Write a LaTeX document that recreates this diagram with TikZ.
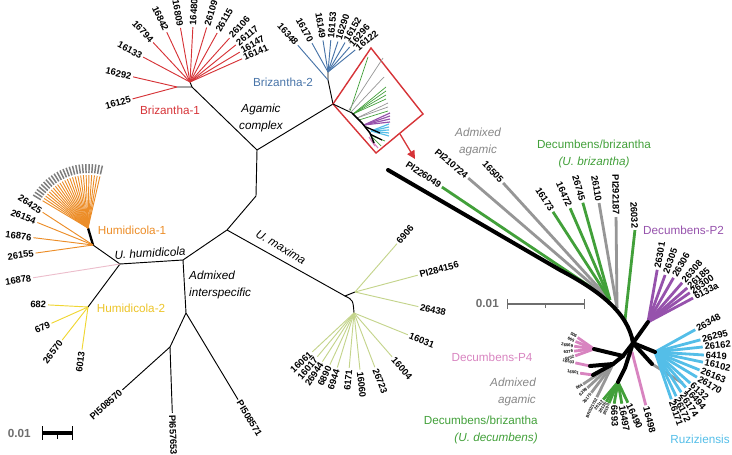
\documentclass[tikz,border=0pt]{standalone}
\usepackage{fontspec}
\setmainfont{Liberation Sans}
\usetikzlibrary{arrows.meta}

\definecolor{brzone}{RGB}{214,52,56}
\definecolor{brztwo}{RGB}{72,116,168}
\definecolor{humone}{RGB}{236,141,40}
\definecolor{humtwo}{RGB}{240,214,50}
\definecolor{humtxt}{RGB}{236,196,40}
\definecolor{humpink}{RGB}{236,190,204}
\definecolor{maxgreen}{RGB}{196,212,140}
\definecolor{decgreen}{RGB}{66,160,58}
\definecolor{admgray}{RGB}{150,150,150}
\definecolor{txtgray}{RGB}{135,135,135}
\definecolor{bargray}{RGB}{110,110,110}
\definecolor{blobgray}{RGB}{125,125,125}
\definecolor{ptwo}{RGB}{150,82,172}
\definecolor{pfour}{RGB}{216,132,192}
\definecolor{ruzcyan}{RGB}{84,190,232}

% tip labels read outwards and never upside down
\tikzset{
  radial/.code={%
    \pgfmathsetmacro\rdang{mod(#1+720,360)}%
    \ifdim\rdang pt>90pt
      \ifdim\rdang pt<270pt
        \pgfmathsetmacro\rdrot{\rdang-180}%
        \pgfkeysalso{rotate=\rdrot,anchor=east}%
      \else
        \pgfkeysalso{rotate=\rdang,anchor=west}%
      \fi
    \else
      \pgfkeysalso{rotate=\rdang,anchor=west}%
    \fi}
}

% fan of leaves: origin, prefix, line style, label style, angle/length/label
\newcommand{\leaffan}[5]{%
  \foreach \ang/\len/\lbl [count=\i] in {#5}{%
    \path (#1) ++(\ang:\len) coordinate (#2-\i);
    \draw[#3] (#1) -- (#2-\i);
    \node[#4, radial=\ang] (#2-l\i) at (#2-\i) {\lbl};
  }%
}

% mixed fan: angle/length/label angle/colour/label
\newcommand{\mixfan}[3]{%
  \foreach \ang/\len/\lang/\col/\lbl [count=\i] in {#3}{%
    \path (#1) ++(\ang:\len) coordinate (#2-\i);
    \draw[thick leaf=\col] (#1) -- (#2-\i);
    \node[tip, radial=\lang] (#2-l\i) at (#2-\i) {\lbl};
  }%
}

\begin{document}
\begin{tikzpicture}[x=0.03cm, y=0.03cm,
    % branch styles
    stem/.style={line width=0.8pt, draw=black},
    spine/.style={line width=3.4pt, draw=black, line cap=round},
    thin leaf/.style={line width=0.8pt, draw=#1},
    thick leaf/.style={line width=2.4pt, draw=#1},
    blob/.style={line width=1.25pt, draw=blobgray},
    % text styles
    tip/.style={font=\fontsize{8}{9}\selectfont\bfseries, inner sep=1.5pt},
    tiny tip/.style={font=\fontsize{3.6}{4}\selectfont\bfseries, inner sep=0.8pt},
    clade/.style={font=\fontsize{10}{12}\selectfont, text=#1, align=center, inner sep=0pt},
    clade/.default=black,
    scale label/.style={font=\fontsize{10}{12}\selectfont\bfseries, text=bargray, inner sep=0pt}
  ]
  \useasboundingbox (0,0) rectangle (732,-455);

  % --- Main tree: inner nodes ---
  \coordinate (ag)   at (257,-150);
  \coordinate (kink) at (256,-196);
  \coordinate (jn)   at (227,-230);
  \coordinate (hu)   at (183,-260);
  \coordinate (hh)   at (120,-264);
  \coordinate (ai)   at (186,-313);
  \coordinate (ai2)  at (170,-347);
  \coordinate (mx)   at (345,-296);
  \coordinate (mx1)  at (355,-292);
  \coordinate (mx2)  at (354,-313);
  \coordinate (b1)   at (192,-87);
  \coordinate (b1a)  at (177,-87);
  \coordinate (b1f)  at (190,-82);
  \coordinate (b2)   at (333,-104);
  \coordinate (b2a)  at (328,-80);
  \coordinate (b2f)  at (328,-72);
  \coordinate (h1)   at (93,-245);
  \coordinate (h1f)  at (88,-228);
  \coordinate (h2)   at (88,-307);

  % --- Main tree: backbone ---
  \draw[stem] (b1a) -- (b1) -- (ag) -- (b2) -- (b2a) -- (b2f);
  \draw[stem] (b1f) -- (b1);
  \draw[stem] (ag) -- (kink) -- (jn) -- (hu) -- (hh) -- (h1);
  \draw[stem] (jn) -- (mx) -- (mx1);
  \draw[stem] (mx) .. controls (353,-300) .. (mx2);
  \draw[stem] (hu) -- (ai) -- (ai2);
  \draw[stem] (hh) -- (h2);
  \draw[line width=2pt] (h1) -- (h1f);

  % --- Brizantha-1 ---
  \leaffan{b1a}{bo}{thin leaf=brzone}{tip}{195/46/16125, 167/45/16292}
  \leaffan{b1f}{bf}{thin leaf=brzone}{tip}{152/53/16133, 133/54/16794, 115/55/16842,
    100/55/16809, 87/55/16480, 73/57/26109, 61/56/26115, 48/59/26106, 39/59/26117,
    31/58/16147, 24/57/16141}

  % --- Brizantha-2 ---
  \leaffan{b2a}{bt}{thin leaf=brztwo}{tip}{131/46/16348}
  \leaffan{b2f}{bu}{thin leaf=brztwo}{tip}{119/33/16170, 99/32/16149, 85/32/16153,
    72/32/16290, 60/34/16152, 49/33/16296, 39/35/16122}

  % --- Humidicola ---
  \leaffan{h1}{ho}{thin leaf=humone}{tip}{188/58/26155, 173/60/16876, 158/60/26154, 147/60/26425}
  \foreach \ang [count=\i] in {77,80,...,149}{
    \path (h1f) ++(\ang:53) coordinate (hf-\i);
    \path (h1f) ++(\ang:55) coordinate (hfa-\i);
    \path (h1f) ++(\ang:64) coordinate (hfb-\i);
    \draw[thin leaf=humone] (h1f) -- (hf-\i);
    \draw[blob] (hfa-\i) -- (hfb-\i);
  }
  \leaffan{hh}{hp}{thin leaf=humpink}{tip}{189/88/16878}
  \leaffan{h2}{hy}{thin leaf=humtwo}{tip}{177/40/682, 204/40/679, 232/42/26570, 262/43/6013}

  % --- Admixed interspecific ---
  \leaffan{ai2}{ax}{stem}{tip}{222/64/PI508570, -88/66/PI657653}
  \leaffan{ai}{ay}{stem}{tip}{-59/101/PI508571}

  % --- U. maxima ---
  \leaffan{mx1}{ma}{thin leaf=maxgreen}{tip}{49/64/6906, 15/65/PI284156, -13/65/26438}
  \leaffan{mx2}{mb}{thin leaf=maxgreen}{tip}{-22/58/16031, -49/58/16004, -69/58/26723,
    -84/57/16060, 265/55/6171, 253/57/6944, 245/57/6890, 237/58/26944, 230/57/16017,
    223/57/16061}

  % --- Left clade labels ---
  \node[clade=brzone] (lbone) at (170,-110) {Brizantha-1};
  \node[clade=brztwo] (lbtwo) at (283,-82) {Brizantha-2};
  \node[clade, font=\fontsize{10}{15}\selectfont\itshape] (lagam) at (261,-118) {Agamic\\complex};
  \node[clade, font=\fontsize{10}{12}\selectfont\itshape, rotate=3] (lhumi) at (150,-253) {U. humidicola};
  \node[clade=humone] (lhone) at (132,-230) {Humidicola-1};
  \node[clade=humtxt] (lhtwo) at (131,-308) {Humidicola-2};
  \node[clade, align=left, anchor=west, font=\fontsize{10}{15}\selectfont\itshape] (ladmi) at (189,-285) {Admixed\\interspecific};
  \node[clade, font=\fontsize{10}{12}\selectfont\itshape, rotate=-31] (lmaxi) at (281,-247) {U. maxima};

  % --- Left scale bar ---
  \coordinate (lsa) at (42,-433);
  \coordinate (lsb) at (72,-433);
  \draw[line width=3.4pt] (lsa) -- (lsb);
  \draw[line width=0.8pt] (42,-426) -- (42,-440);
  \draw[line width=0.8pt] (72,-426) -- (72,-440);
  \draw[line width=0.8pt] (57,-433) -- (57,-439);
  \node[scale label, anchor=east] (lscl) at (31,-433) {0.01};

  % --- Inset box and arrow ---
  \coordinate (bx1) at (371,-48);
  \coordinate (bx2) at (423,-114);
  \coordinate (bx3) at (376,-153);
  \draw[brzone, line width=1.2pt, line join=miter] (b2) -- (bx1) -- (bx2) -- (bx3) -- cycle;
  \coordinate (arra) at (400,-134);
  \coordinate (arrb) at (415,-159);
  \draw[brzone, line width=1.1pt, -{Triangle[length=7pt,width=7pt]}] (arra) -- (arrb);

  % miniature of the enlarged tree
  \begin{scope}[line width=0.6pt]
    \draw[decgreen] (350,-111) -- (368,-57);
    \draw[admgray] (349,-110) -- (383,-58);
    \draw[admgray] (351,-112) -- (384,-77);
    \foreach \ty in {87,91,95,99} \draw[decgreen] (353,-114) -- (386,-\ty);
    \foreach \ty in {103,107} \draw[admgray] (357,-118) -- (388,-\ty);
    \draw[decgreen] (359,-120) -- (388,-111);
    \foreach \ty in {113,116,119,122} \draw[ptwo, line width=1pt] (364,-125) -- (390,-\ty);
    \foreach \ty in {124,127,130,133,136} \draw[ruzcyan, line width=1pt] (371,-131) -- (389,-\ty);
    \draw[decgreen] (372,-136) -- (385,-141);
    \draw[decgreen] (373,-138) -- (381,-146);
    \draw[pfour, line width=1pt] (371,-140) -- (378,-148);
    \draw[pfour, line width=1pt] (369,-137) -- (375,-146);
    \draw[line width=1.3pt] (352,-113) -- (362,-123) -- (370,-133) -- (374,-143);
    \draw[line width=1.1pt] (366,-127) -- (380,-133);
    \draw[line width=1.1pt] (370,-134) -- (382,-140);
  \end{scope}
  \draw[stem] (b2) -- (352,-113);

  % --- Enlarged tree: inner nodes ---
  \coordinate (rtop) at (388,-170);
  \coordinate (rs)   at (560,-270);
  \coordinate (rh)   at (633,-343);
  \coordinate (ra1)  at (610,-300);
  \coordinate (ra2)  at (617,-308);
  \coordinate (ra3)  at (625,-320);
  \coordinate (rpu)  at (648,-322);
  \coordinate (rrz)  at (655,-352);
  \coordinate (rrg)  at (652,-364);
  \coordinate (rw)   at (623,-356);
  \coordinate (rp4)  at (594,-349);
  \coordinate (rx)   at (613,-364);
  \coordinate (rx1)  at (590,-366);
  \coordinate (rx2)  at (593,-375);
  \coordinate (rd)   at (625,-368);
  \coordinate (rd2)  at (618,-382);
  \coordinate (r98)  at (632,-352);

  % --- Enlarged tree: leaves ---
  \mixfan{ra1}{rt}{146.1/202.5/146.1/decgreen/PI226049, 139.3/187/139.3/admgray/PI210724,
    132.4/158.5/132.4/admgray/16505, 122.9/105/122.9/decgreen/16173,
    113.5/100/113.5/decgreen/16472, 105.6/101/105.6/decgreen/26745}
  \mixfan{ra2}{ru}{99.7/106.5/99.7/admgray/26110, 90.6/91/90.6/admgray/PI292187}
  \mixfan{ra3}{rv}{83.7/90.5/93/decgreen/26032}
  \leaffan{rpu}{rpp}{thick leaf=ptwo}{tip}{80/53/26301, 70/50/26305, 60/51/26306,
    49/52/26308, 41/52/26185, 35/51/26300, 28/51/6133a}
  \draw[thick leaf=admgray] (rrg) -- ++(-32:36) coordinate (rrg-1);
  \leaffan{rrz}{rz}{thick leaf=ruzcyan}{tip}{29/46/26348, 15/47/26295, 6/48/26162,
    -3.5/49/6419, -12/49/16102, -22/48/26163, -31/49/26170, -41.5/47/6132,
    -49/47/16494, -57/48/26174, -64.5/49/26172, -71/50/26171}
  \leaffan{rp4}{rq}{thick leaf=pfour}{tiny tip}{145/20/506, 158/20/665, 172/20/26569,
    186/20/6376, 200/20/6702}
  \leaffan{rx1}{rqa}{thick leaf=pfour}{tiny tip}{168/15/16503}
  \leaffan{rx2}{rqb}{thick leaf=pfour}{tiny tip}{172/13/16501}
  \leaffan{rx}{rg}{thick leaf=admgray}{tiny tip}{214/36/864, 223/35/6298, 233/36/26175}
  \path (rx) ++(244:37) coordinate (rgx);
  \draw[thick leaf=admgray] (rx) -- (rgx);
  \node[tiny tip, radial=244] (rgx-l) at (rgx) {BR02/1752};
  \leaffan{rd2}{rdt}{thick leaf=decgreen}{tiny tip}{230/23/26112, 239/23/26135, 247/23/26190}
  \path (rd2) ++(260:22) coordinate (rdx);
  \draw[thick leaf=decgreen] (rd2) -- (rdx);
  \node[tip, radial=-88] (rdx-l) at (rdx) {6693};
  \leaffan{rd2}{rdu}{thick leaf=decgreen}{tip}{-80/22/16497, -64.5/23/16490}
  \leaffan{r98}{rk}{thick leaf=pfour}{tip}{-75.5/55/16498}

  % --- Enlarged tree: black inner branches on top ---
  \draw[spine] (rtop) -- (rs) .. controls (598,-290) and (628,-312) .. (rh);
  \draw[spine] (rh) -- (rpu);
  \draw[spine] (rh) -- (rrz);
  \draw[spine] (rh) -- (rrg);
  \draw[spine] (rh) -- (rw) -- (rp4);
  \draw[spine] (rw) -- (rx);
  \draw[spine] (rx) -- (rx1);
  \draw[spine] (rx) -- (rx2);
  \draw[spine] (rh) -- (rd) -- (rd2);

  % --- Right clade labels ---
  \node[clade=txtgray, font=\fontsize{10}{14}\selectfont\itshape] (ragt) at (478,-142) {Admixed\\agamic};
  \node[clade=decgreen, font=\fontsize{10}{15}\selectfont] (rbrz) at (594,-154) {Decumbens/brizantha\\\itshape(U. brizantha)};
  \node[clade=ptwo, anchor=west] (rptwo) at (643,-230) {Decumbens-P2};
  \node[clade=pfour] (rpfour) at (492,-357) {Decumbens-P4};
  \node[clade=txtgray, align=right, anchor=east, font=\fontsize{10}{15}\selectfont\itshape] (ragb) at (536,-392) {Admixed\\agamic};
  \node[clade=decgreen, align=right, anchor=east, font=\fontsize{10}{15}\selectfont] (rdec) at (538,-430) {Decumbens/brizantha\\\itshape(U. decumbens)};
  \node[clade=ruzcyan] (rruz) at (700,-439) {Ruziziensis};

  % --- Right scale bar ---
  \coordinate (rsa) at (507,-304);
  \coordinate (rsb) at (584,-304);
  \draw[bargray, line width=1.2pt] (rsa) -- (rsb);
  \draw[bargray, line width=0.8pt] (507,-299) -- (507,-309);
  \draw[bargray, line width=0.8pt] (584,-299) -- (584,-309);
  \draw[bargray, line width=0.8pt] (545,-304) -- (545,-308);
  \node[scale label, anchor=east] (rscl) at (499,-303) {0.01};
\end{tikzpicture}
\end{document}
